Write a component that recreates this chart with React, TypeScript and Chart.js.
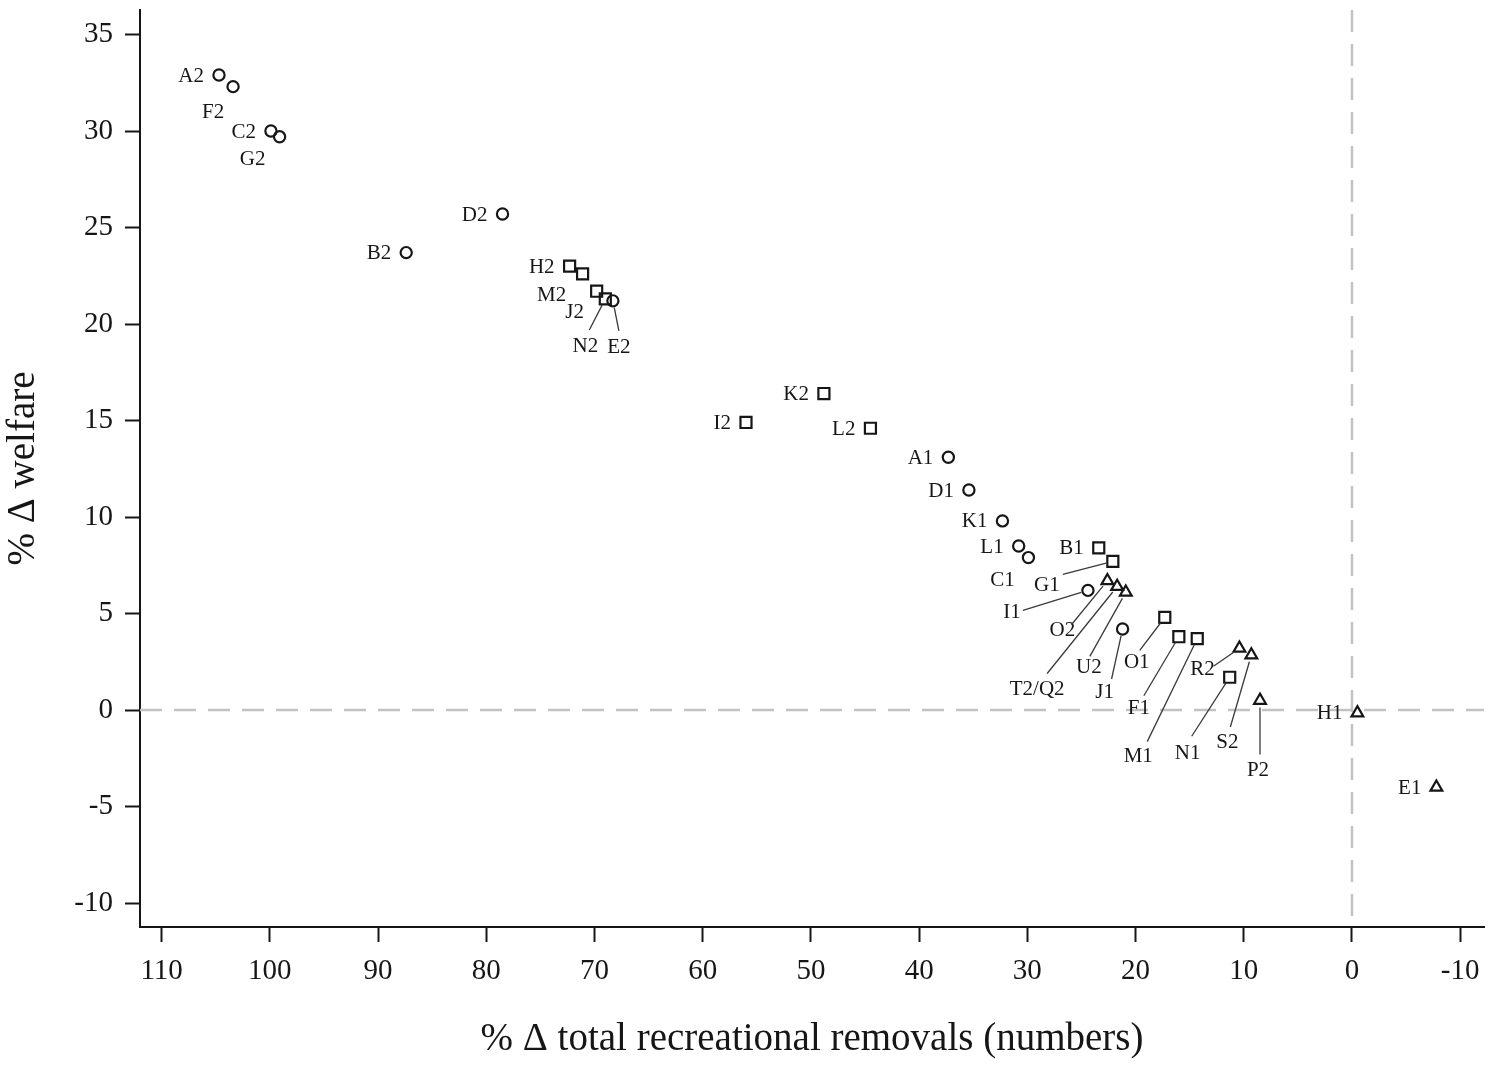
import { useEffect, useRef } from "react"
import { Chart, registerables, ChartConfiguration, Plugin } from "chart.js"

Chart.register(...registerables)

const serif = "'Liberation Serif', 'Times New Roman', serif"
const ink = "#161616"

// scenario labels, % change in removals (x) and % change in welfare (y)
const names = [
	"A2", "F2", "C2", "G2", "D2", "B2", "E2", "A1", "D1", "K1", "L1", "C1", "I1", "J1",
	"H2", "M2", "J2", "N2", "K2", "I2", "L2", "B1", "G1", "O1", "F1", "M1", "N1",
	"O2", "T2/Q2", "U2", "R2", "S2", "P2", "H1", "E1"
]
const removals = [
	104.7, 103.4, 99.9, 99.1, 78.5, 87.4, 68.3, 37.3, 35.4, 32.3, 30.8, 29.9, 24.4, 21.2,
	72.3, 71.1, 69.8, 69.0, 48.8, 56.0, 44.5, 23.4, 22.1, 17.3, 16.0, 14.3, 11.3,
	22.6, 21.7, 20.9, 10.4, 9.3, 8.5, -0.5, -7.8
]
const welfare = [
	32.9, 32.3, 30.0, 29.7, 25.7, 23.7, 21.2, 13.1, 11.4, 9.8, 8.5, 7.9, 6.2, 4.2,
	23.0, 22.6, 21.7, 21.3, 16.4, 14.9, 14.6, 8.4, 7.7, 4.8, 3.8, 3.7, 1.7,
	6.7, 6.4, 6.1, 3.2, 2.85, 0.5, -0.15, -4.0
]
const groups = [
	"circle", "circle", "circle", "circle", "circle", "circle", "circle", "circle", "circle", "circle", "circle", "circle", "circle", "circle",
	"rect", "rect", "rect", "rect", "rect", "rect", "rect", "rect", "rect", "rect", "rect", "rect", "rect",
	"triangle", "triangle", "triangle", "triangle", "triangle", "triangle", "triangle", "triangle"
]

const xTicks = [110, 100, 90, 80, 70, 60, 50, 40, 30, 20, 10, 0, -10]
const yTicks = [-10, -5, 0, 5, 10, 15, 20, 25, 30, 35]

// label placement in px relative to the marker; lx/ly = leader start relative to label centre
type Place = { dx: number; dy: number; right?: boolean; lx?: number; ly?: number }
const left: Place = { dx: -15, dy: 1, right: true }
const placement: Record<string, Place> = {
	A2: left, C2: left, B2: left, D2: left, H2: left, K2: left, I2: left, L2: left,
	A1: left, D1: left, K1: left, L1: left, B1: left, H1: left, E1: left,
	F2: { dx: -20, dy: 26 },
	G2: { dx: -27, dy: 23 },
	M2: { dx: -31, dy: 22 },
	J2: { dx: -22, dy: 21 },
	C1: { dx: -26, dy: 23 },
	N2: { dx: -20, dy: 48, lx: 4, ly: -17 },
	E2: { dx: 6, dy: 47, lx: 0, ly: -17 },
	G1: { dx: -66, dy: 24, lx: 16, ly: -11 },
	I1: { dx: -76, dy: 22, lx: 11, ly: -2 },
	O2: { dx: -45, dy: 50, lx: 9, ly: -6 },
	"T2/Q2": { dx: -80, dy: 103, lx: 10, ly: -16 },
	U2: { dx: -37, dy: 75, lx: 1, ly: -11 },
	J1: { dx: -18, dy: 63, lx: 7, ly: -13 },
	O1: { dx: -28, dy: 45, lx: 3, ly: -12 },
	F1: { dx: -40, dy: 72, lx: 5, ly: -13 },
	M1: { dx: -59, dy: 118, lx: 9, ly: -15 },
	R2: { dx: -37, dy: 21, lx: 11, ly: -3 },
	N1: { dx: -42, dy: 76, lx: 4, ly: -17 },
	S2: { dx: -24, dy: 87, lx: 3, ly: -15 },
	P2: { dx: -2, dy: 70, lx: 2, ly: -16 }
}

const pointsOf = (shape: string) =>
	names
		.map((n, i) => ({ x: removals[i], y: welfare[i], name: n, shape: groups[i] }))
		.filter((p) => p.shape === shape)

const refLines: Plugin = {
	id: "refLines",
	beforeDatasetsDraw(chart) {
		const { ctx, chartArea, scales } = chart
		const x0 = scales.x.getPixelForValue(0)
		const y0 = scales.y.getPixelForValue(0)
		ctx.save()
		ctx.strokeStyle = "#c2c2c2"
		ctx.lineWidth = 2.5
		ctx.setLineDash([22, 12])
		ctx.beginPath()
		ctx.moveTo(chartArea.left, y0)
		ctx.lineTo(chartArea.right, y0)
		ctx.moveTo(x0, chartArea.top)
		ctx.lineTo(x0, chartArea.bottom)
		ctx.stroke()
		ctx.restore()
	}
}

const pointLabels: Plugin = {
	id: "pointLabels",
	afterDatasetsDraw(chart) {
		const { ctx, scales } = chart
		ctx.save()
		ctx.font = `21px ${serif}`
		ctx.fillStyle = ink
		ctx.textBaseline = "middle"
		names.forEach((n, i) => {
			const px = scales.x.getPixelForValue(removals[i])
			const py = scales.y.getPixelForValue(welfare[i])
			const p = placement[n] || left
			const tx = px + p.dx
			const ty = py + p.dy
			ctx.textAlign = p.right ? "right" : "center"
			ctx.fillText(n, tx, ty)
			if (p.lx !== undefined && p.ly !== undefined) {
				const sx = tx + p.lx
				const sy = ty + p.ly
				const len = Math.hypot(px - sx, py - sy)
				const k = (len - 7) / len
				ctx.strokeStyle = "#3a3a3a"
				ctx.lineWidth = 1.3
				ctx.beginPath()
				ctx.moveTo(sx, sy)
				ctx.lineTo(sx + (px - sx) * k, sy + (py - sy) * k)
				ctx.stroke()
			}
		})
		ctx.restore()
	}
}

const marker = (shape: string, radius: number) => ({
	data: pointsOf(shape),
	pointStyle: shape,
	radius: radius,
	hoverRadius: radius,
	borderWidth: 2.2,
	borderColor: ink,
	backgroundColor: "rgba(0,0,0,0)"
})

const config: ChartConfiguration<"scatter"> = {
	type: "scatter",
	data: {
		datasets: [marker("circle", 5.6), marker("rect", 7.8), marker("triangle", 6.8)] as any
	},
	options: {
		animation: false,
		responsive: true,
		maintainAspectRatio: false,
		layout: { padding: { top: 10, right: 16, left: 0, bottom: 0 } },
		plugins: {
			legend: { display: false },
			tooltip: { enabled: false }
		},
		scales: {
			x: {
				type: "linear",
				reverse: true,
				min: -12.2,
				max: 112,
				afterBuildTicks(scale) {
					scale.ticks = xTicks.map((v) => ({ value: v }))
				},
				afterFit(scale) {
					scale.height = 140
				},
				grid: { drawOnChartArea: false, drawTicks: true, tickLength: 15, tickColor: ink, tickWidth: 2 },
				border: { color: ink, width: 2 },
				ticks: {
					color: ink,
					autoSkip: false,
					maxRotation: 0,
					padding: 12,
					font: { family: serif, size: 29 },
					callback: (v) => String(v)
				},
				title: {
					display: true,
					text: "% Δ total recreational removals (numbers)",
					color: ink,
					font: { family: serif, size: 39 },
					padding: { top: 0, bottom: 4 }
				}
			},
			y: {
				type: "linear",
				min: -11.24,
				max: 36.27,
				afterBuildTicks(scale) {
					scale.ticks = yTicks.map((v) => ({ value: v }))
				},
				afterFit(scale: any) {
					scale.width = 140
					scale.paddingTop = 0
					scale.paddingBottom = 0
				},
				grid: { drawOnChartArea: false, drawTicks: true, tickLength: 15, tickColor: ink, tickWidth: 2 },
				border: { color: ink, width: 2 },
				ticks: {
					color: ink,
					autoSkip: false,
					padding: 12,
					font: { family: serif, size: 29 },
					callback: (v) => String(v)
				},
				title: {
					display: true,
					text: "% Δ welfare",
					color: ink,
					font: { family: serif, size: 39 },
					padding: { top: 0, bottom: 0 }
				}
			}
		}
	},
	plugins: [refLines, pointLabels]
}

export default function App() {
	const canvasRef = useRef<HTMLCanvasElement>(null)

	useEffect(() => {
		const ctx = canvasRef.current?.getContext("2d") as CanvasRenderingContext2D
		const chart = new Chart(ctx, config)
		return () => {
			chart.destroy()
		}
	}, [])

	return (
		<div style={{ position: "absolute", left: 0, top: 0, width: 1500, height: 1067, background: "#fff" }}>
			<canvas ref={canvasRef} />
		</div>
	)
}
